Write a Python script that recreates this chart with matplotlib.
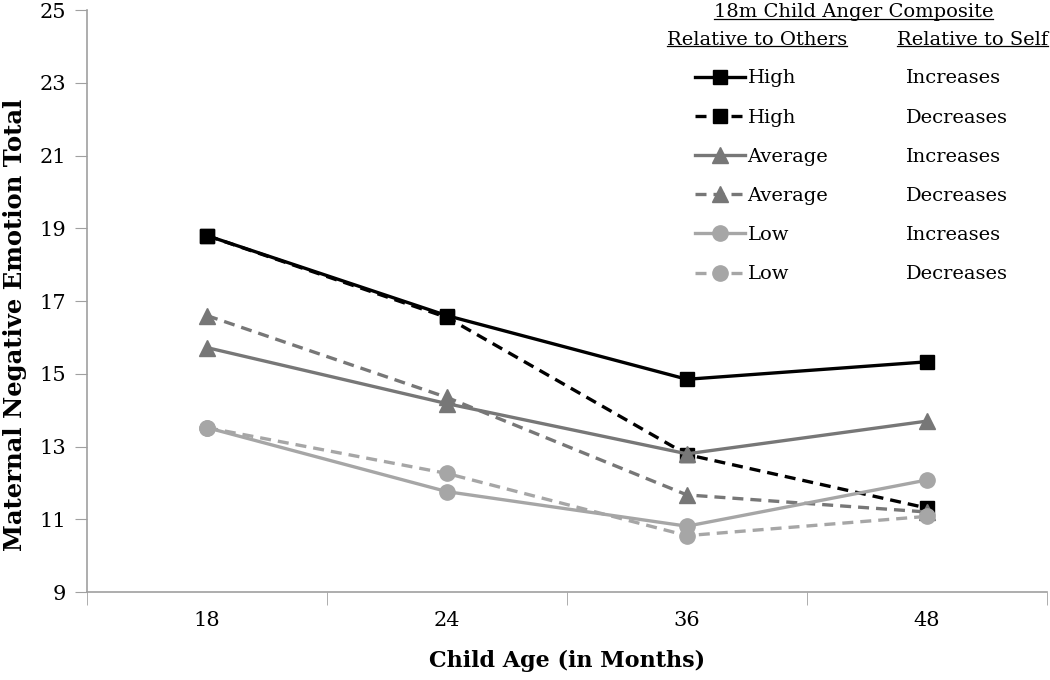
import numpy as np
import matplotlib.pyplot as plt
from matplotlib.lines import Line2D

# data
ages = ['18', '24', '36', '48']
high_inc = [18.8, 16.6, 14.85, 15.33]
high_dec = [18.8, 16.55, 12.78, 11.31]
avg_inc = [15.72, 14.18, 12.8, 13.7]
avg_dec = [16.6, 14.35, 11.67, 11.2]
low_inc = [13.52, 11.76, 10.81, 12.08]
low_dec = [13.52, 12.26, 10.55, 11.08]

others = ['High', 'High', 'Average', 'Average', 'Low', 'Low']
selfs = ['Increases', 'Decreases', 'Increases', 'Decreases', 'Increases', 'Decreases']

plt.rcParams['font.family'] = ['DejaVu Serif']

fig = plt.figure(figsize=(10.5, 6.8), dpi=100)
ax = fig.add_axes([0.083, 0.1294, 0.914, 0.8556])

x = np.arange(len(ages))
black = '#000000'
mid = '#777777'
light = '#a6a6a6'

series = [
    (high_inc, black, '-', 's', 10.5),
    (high_dec, black, '--', 's', 10.5),
    (avg_inc, mid, '-', '^', 11),
    (avg_dec, mid, '--', '^', 11),
    (low_inc, light, '-', 'o', 11),
    (low_dec, light, '--', 'o', 11),
]

handles = []
for vals, col, ls, mk, ms in series:
    h, = ax.plot(x, vals, color=col, linestyle=ls, marker=mk, markersize=ms,
                 linewidth=2.4, dashes=(3.3, 2.1) if ls == '--' else (None, None))
    handles.append(h)

ax.set_xlim(-0.5, 3.5)
ax.set_ylim(9, 25)
ax.set_yticks(np.arange(9, 26, 2))
ax.set_xticks(x)
ax.set_xticklabels(ages)
ax.set_xticks(np.arange(-0.5, 3.6, 1), minor=True)
ax.tick_params(axis='x', which='major', length=0, labelsize=15, pad=14)
ax.tick_params(axis='x', which='minor', length=9, color='#a0a0a0', direction='out')
ax.tick_params(axis='y', labelsize=15, length=9, color='#a0a0a0', pad=6)

for s in ['top', 'right']:
    ax.spines[s].set_visible(False)
for s in ['left', 'bottom']:
    ax.spines[s].set_color('#a0a0a0')
    ax.spines[s].set_linewidth(1.2)

ax.set_xlabel('Child Age (in Months)', fontsize=16, fontweight='bold', labelpad=14)
ax.set_ylabel('Maternal Negative Emotion Total', fontsize=17.5, fontweight='bold', labelpad=10)
ax.yaxis.set_label_coords(-0.063, 0.459)

# legend: left column with markers, right column text only
blank = [Line2D([], [], linestyle='none') for _ in selfs]
leg = ax.legend(handles + blank, others + selfs, ncol=2, frameon=False,
                fontsize=14, handlelength=2.55, handletextpad=0.15,
                columnspacing=1.3, labelspacing=1.09, borderpad=0,
                borderaxespad=0, loc='upper left',
                bbox_to_anchor=(0.662, 0.898), bbox_transform=fig.transFigure)

fig.text(0.813, 0.982, '18m Child Anger Composite', fontsize=14, ha='center', va='center')
fig.text(0.721, 0.941, 'Relative to Others', fontsize=14, ha='center', va='center')
fig.text(0.926, 0.941, 'Relative to Self', fontsize=14, ha='center', va='center')

# underline the headers
fig.canvas.draw()
r = fig.canvas.get_renderer()
for t in fig.texts[:]:
    bb = t.get_window_extent(r).transformed(fig.transFigure.inverted())
    fig.add_artist(Line2D([bb.x0, bb.x1], [bb.y0 + 0.004, bb.y0 + 0.004],
                          transform=fig.transFigure, color='black', linewidth=0.9))

fig.savefig('out.png', dpi=100)
